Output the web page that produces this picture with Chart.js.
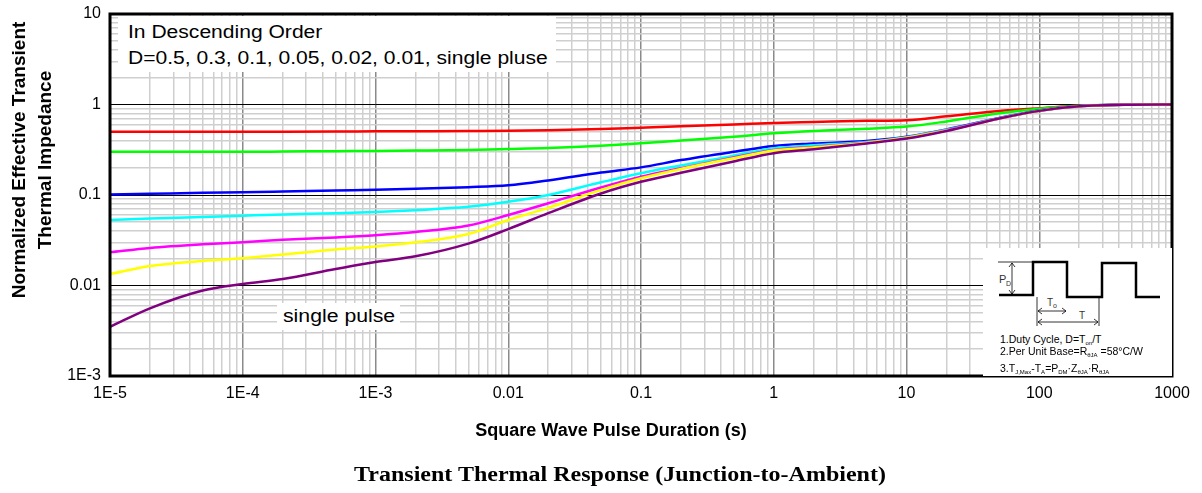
<!DOCTYPE html>
<html>
<head>
<meta charset="utf-8">
<script src="https://cdn.jsdelivr.net/npm/chart.js@4.4.1/dist/chart.umd.min.js"></script>
<style>
  body { margin: 0; background: #fff; font-family: "Liberation Sans", Arial, sans-serif; color: #000; }
  #wrap { position: relative; width: 1202px; height: 493px; overflow: hidden; }
  #chartBox { position: absolute; left: 0; top: 0; width: 1202px; height: 493px; }
  .box { position: absolute; background: #fff; }
  .wide { display: inline-block; transform-origin: 0 50%; white-space: nowrap; }
  #orderBox { left: 118px; top: 16px; width: 438px; height: 56px; font-size: 18px; line-height: 26px; padding-left: 10px; box-sizing: border-box; padding-top: 3px; }
  #orderBox .wide { transform: scaleX(1.17); }
  #pulseBox { left: 277px; top: 303px; width: 123px; height: 27px; font-size: 18px; line-height: 27px; padding-left: 6px; box-sizing: border-box; }
  #pulseBox .wide { transform: scaleX(1.18); }
  #inset { left: 983px; top: 248px; width: 189px; height: 128px; }
  #inset .ln { position: absolute; left: 17px; font-size: 10.5px; line-height: 12px; white-space: nowrap; }
  #inset sub { font-size: 6px; vertical-align: -2px; }
  #yTitle { position: absolute; left: 32px; top: 160px; width: 340px; transform: translate(-50%, -50%) rotate(-90deg);
            text-align: center; font-weight: bold; font-size: 19px; line-height: 26px; white-space: nowrap; }
  #xTitle { position: absolute; left: 611px; top: 430px; transform: translate(-50%, -50%); font-weight: bold; font-size: 18px; white-space: nowrap; }
  #caption { position: absolute; left: 620px; top: 474px; transform: translate(-50%, -50%) scaleX(1.2); font-family: "Liberation Serif", "Times New Roman", serif;
             font-weight: bold; font-size: 20px; white-space: nowrap; }
</style>
</head>
<body>
<div id="wrap">
  <div id="chartBox"><canvas id="myChart"></canvas></div>

  <div class="box" id="orderBox"><span class="wide">In Descending Order</span><br><span class="wide">D=0.5, 0.3, 0.1, 0.05, 0.02, 0.01, single pluse</span></div>
  <div class="box" id="pulseBox"><span class="wide">single pulse</span></div>

  <div class="box" id="inset">
    <svg width="189" height="128" style="position:absolute;left:0;top:0">
      <g fill="none" stroke="#000" stroke-width="2.5">
        <polyline points="16,47 50,47 50,14 84,14 84,49 119,49 119,15 153,15 153,49 177,49"/>
      </g>
      <g fill="none" stroke="#000" stroke-width="0.8">
        <line x1="15" y1="14" x2="50" y2="14"/>
        <line x1="29" y1="15" x2="29" y2="46"/>
        <polyline points="26,19 29,15 32,19"/>
        <polyline points="26,42 29,46 32,42"/>
        <line x1="54" y1="49" x2="54" y2="78"/>
        <line x1="116" y1="49" x2="116" y2="78"/>
        <line x1="55" y1="63" x2="83" y2="63"/>
        <polyline points="59,60 55,63 59,66"/>
        <polyline points="79,60 83,63 79,66"/>
        <line x1="55" y1="74" x2="115" y2="74"/>
        <polyline points="59,71 55,74 59,77"/>
        <polyline points="111,71 115,74 111,77"/>
      </g>
      <g font-family="Liberation Sans, Arial, sans-serif" fill="#333">
        <text x="16" y="35" font-size="11">P</text>
        <text x="23" y="38" font-size="7">D</text>
        <text x="64" y="58" font-size="10">T</text>
        <text x="70" y="60" font-size="7">o</text>
        <text x="96" y="71" font-size="10">T</text>
      </g>
    </svg>
    <div class="ln" style="top:85px">1.Duty Cycle, D=T<sub>on</sub>/T</div>
    <div class="ln" style="top:97px">2.Per Unit Base=R<sub>θJA</sub> =58°C/W</div>
    <div class="ln" style="top:114px">3.T<sub>J,Max</sub>-T<sub>A</sub>=P<sub>DM</sub>·Z<sub>θJA</sub>·R<sub>θJA</sub></div>
  </div>

  <div id="yTitle">Normalized Effective Transient<br>Thermal Impedance</div>
  <div id="xTitle">Square Wave Pulse Duration (s)</div>
  <div id="caption">Transient Thermal Response (Junction-to-Ambient)</div>
</div>

<script>
// pulse duration (s)
const durations = [1e-5, 2e-5, 5e-5, 1e-4, 2e-4, 5e-4, 1e-3, 2e-3, 5e-3, 1e-2, 2e-2, 5e-2,
                   0.1, 0.2, 0.5, 1, 2, 5, 10, 20, 50, 100, 200, 500, 1000];

// normalized Zth for each duty cycle
const zD05  = [0.50, 0.50, 0.50, 0.50, 0.50, 0.502, 0.505, 0.507, 0.51, 0.513, 0.52, 0.535,
               0.555, 0.575, 0.60, 0.625, 0.64, 0.66, 0.67, 0.74, 0.85, 0.91, 0.97, 0.995, 1.0];
const zD03  = [0.30, 0.30, 0.30, 0.30, 0.302, 0.305, 0.307, 0.31, 0.315, 0.322, 0.33, 0.35,
               0.373, 0.40, 0.44, 0.48, 0.51, 0.54, 0.57, 0.65, 0.80, 0.90, 0.97, 0.995, 1.0];
const zD01  = [0.101, 0.103, 0.106, 0.107, 0.109, 0.112, 0.114, 0.117, 0.122, 0.128, 0.145, 0.177,
               0.202, 0.243, 0.30, 0.348, 0.37, 0.395, 0.44, 0.53, 0.71, 0.86, 0.96, 0.995, 1.0];
const zD005 = [0.053, 0.055, 0.057, 0.059, 0.061, 0.063, 0.065, 0.068, 0.074, 0.084, 0.100, 0.138,
               0.174, 0.212, 0.272, 0.328, 0.355, 0.385, 0.435, 0.525, 0.705, 0.855, 0.955, 0.995, 1.0];
const zD002 = [0.0233, 0.026, 0.0285, 0.030, 0.032, 0.034, 0.036, 0.039, 0.046, 0.060, 0.081, 0.121,
               0.159, 0.198, 0.26, 0.314, 0.34, 0.38, 0.43, 0.52, 0.70, 0.85, 0.955, 0.995, 1.0];
const zD001 = [0.0134, 0.0164, 0.0187, 0.020, 0.022, 0.025, 0.027, 0.030, 0.037, 0.053, 0.072, 0.114,
               0.153, 0.194, 0.255, 0.31, 0.335, 0.378, 0.428, 0.515, 0.70, 0.85, 0.955, 0.995, 1.0];
const zSingle = [0.0035, 0.0056, 0.0088, 0.0104, 0.0118, 0.0152, 0.0182, 0.021, 0.029, 0.042, 0.063, 0.104,
                 0.140, 0.176, 0.235, 0.29, 0.32, 0.37, 0.42, 0.51, 0.70, 0.85, 0.955, 0.995, 1.0];

const seriesColors = ['#ff0000', '#00ff00', '#0000ff', '#00ffff', '#ff00ff', '#ffff00', '#800080'];

const xMajor = [1e-5, 1e-4, 1e-3, 1e-2, 0.1, 1, 10, 100, 1000];
const xTickLabels = ['1E-5', '1E-4', '1E-3', '0.01', '0.1', '1', '10', '100', '1000'];
const yMajor = [1e-3, 1e-2, 0.1, 1, 10];
const yTickLabels = ['1E-3', '0.01', '0.1', '1', '10'];

// 1..9 in every decade, for the grid
function decadeTicks(majors) {
    const out = [];
    majors.forEach((m, i) => {
        if (i === majors.length - 1) { out.push(m); return; }
        for (let k = 1; k <= 9; k++) out.push(m * k);
    });
    return out.map(v => ({ value: v }));
}
function isMajor(v) {
    const l = Math.log10(v);
    return Math.abs(l - Math.round(l)) < 1e-6;
}
function labelFor(v, majors, labels) {
    const i = majors.findIndex(m => Math.abs(m - v) / m < 1e-6);
    return i >= 0 ? labels[i] : '';
}

const toPts = arr => arr.map((z, i) => ({ x: durations[i], y: z }));
const allSeries = [zD05, zD03, zD01, zD005, zD002, zD001, zSingle];

const frame = {
    id: 'frame',
    afterDatasetsDraw(chart) {
        const { ctx, chartArea: a } = chart;
        ctx.save();
        ctx.lineWidth = 3;
        ctx.strokeStyle = '#000';
        ctx.strokeRect(a.left, a.top, a.right - a.left, a.bottom - a.top);
        ctx.restore();
    }
};

const tickFont = { family: '"Liberation Sans", Arial, sans-serif', size: 16 };

const ctx = document.getElementById('myChart');
new Chart(ctx, {
    type: 'line',
    data: {
        datasets: allSeries.map((s, i) => ({
            data: toPts(s),
            borderColor: seriesColors[i],
            borderWidth: 2.5,
            pointRadius: 0,
            fill: false,
            cubicInterpolationMode: 'monotone',
            order: allSeries.length - 1 - i
        }))
    },
    options: {
        responsive: true,
        maintainAspectRatio: false,
        animation: false,
        layout: { padding: { left: 0, right: 30, top: 14, bottom: 0 } },
        scales: {
            x: {
                type: 'logarithmic',
                min: 1e-5,
                max: 1000,
                border: { display: false },
                afterBuildTicks: s => { s.ticks = decadeTicks(xMajor); },
                afterFit: s => { s.height = 117; },
                grid: {
                    drawTicks: false,
                    color: c => isMajor(c.tick.value) ? '#8a8a8a' : '#cfcfcf',
                    lineWidth: 1.5
                },
                ticks: {
                    autoSkip: false,
                    maxRotation: 0,
                    padding: 8,
                    color: '#000',
                    font: tickFont,
                    callback: v => labelFor(v, xMajor, xTickLabels)
                }
            },
            y: {
                type: 'logarithmic',
                min: 1e-3,
                max: 10,
                border: { display: false },
                afterBuildTicks: s => { s.ticks = decadeTicks(yMajor); },
                afterFit: s => { s.width = 110; s.paddingTop = 0; s.paddingBottom = 0; },
                grid: {
                    drawTicks: false,
                    color: c => isMajor(c.tick.value) ? '#000' : '#cfcfcf',
                    lineWidth: c => isMajor(c.tick.value) ? 1 : 1.5
                },
                ticks: {
                    autoSkip: false,
                    padding: 9,
                    color: '#000',
                    font: tickFont,
                    callback: v => labelFor(v, yMajor, yTickLabels)
                }
            }
        },
        plugins: {
            legend: { display: false },
            tooltip: { enabled: false }
        }
    },
    plugins: [frame]
});
</script>
</body>
</html>
